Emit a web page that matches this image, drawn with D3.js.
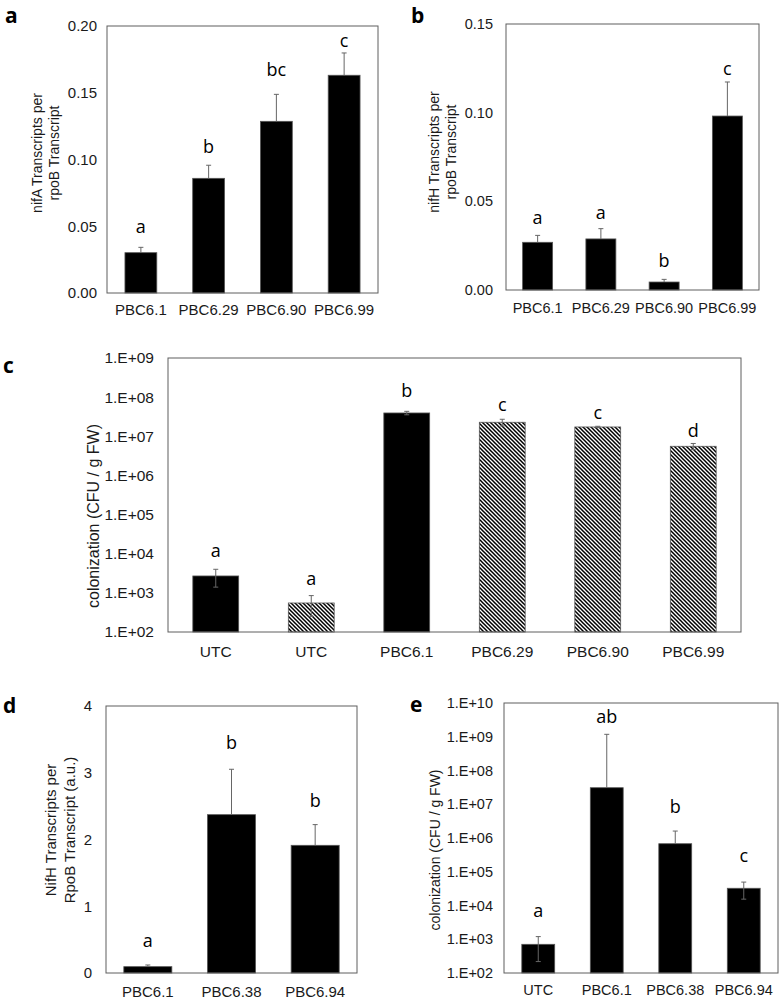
<!DOCTYPE html>
<html>
<head>
<meta charset="utf-8">
<script src="https://cdn.jsdelivr.net/npm/d3@7"></script>
<style>
  html, body { margin: 0; padding: 0; background: #fff; }
  svg { display: block; }
</style>
</head>
<body>
<svg id="chart" width="782" height="1001"></svg>
<script>
// ---------------- DATA ----------------
// Panel a
const aCategories = ["PBC6.1", "PBC6.29", "PBC6.90", "PBC6.99"];
const aValues = [0.0302, 0.0859, 0.1286, 0.1631];
const aErrors = [0.0040, 0.0098, 0.0202, 0.0167];
const aLetters = ["a", "b", "bc", "c"];
const aLetterAt = [0.0447, 0.1046, 0.1625, 0.1845];
const aTicks = [0, 0.05, 0.10, 0.15, 0.20];
const aTickLabels = ["0.00", "0.05", "0.10", "0.15", "0.20"];

// Panel b
const bCategories = ["PBC6.1", "PBC6.29", "PBC6.90", "PBC6.99"];
const bValues = [0.0269, 0.0288, 0.0045, 0.0981];
const bErrors = [0.0039, 0.0058, 0.0015, 0.0192];
const bLetters = ["a", "a", "b", "c"];
const bLetterAt = [0.0372, 0.0400, 0.0131, 0.1212];
const bTicks = [0, 0.05, 0.10, 0.15];
const bTickLabels = ["0.00", "0.05", "0.10", "0.15"];

// Panel c
const cCategories = ["UTC", "UTC", "PBC6.1", "PBC6.29", "PBC6.90", "PBC6.99"];
const cSeries = ["wt", "evolved", "wt", "evolved", "evolved", "evolved"];
const cValues = [2700, 551, 3.94e7, 2.28e7, 1.73e7, 5.55e6];
const cErrors = [1300, 300, 4.0e6, 4.4e6, 0.7e6, 1.0e6];
const cLetters = ["a", "a", "b", "c", "c", "d"];
const cLetterAt = [8390, 1617, 1.03e8, 4.5e7, 2.77e7, 9.77e6];
const cTicks = [1e2, 1e3, 1e4, 1e5, 1e6, 1e7, 1e8, 1e9];
const cTickLabels = ["1.E+02", "1.E+03", "1.E+04", "1.E+05", "1.E+06", "1.E+07", "1.E+08", "1.E+09"];

// Panel d
const dCategories = ["PBC6.1", "PBC6.38", "PBC6.94"];
const dValues = [0.095, 2.372, 1.913];
const dErrors = [0.025, 0.68, 0.31];
const dLetters = ["a", "b", "b"];
const dLetterAt = [0.385, 3.36, 2.48];
const dTicks = [0, 1, 2, 3, 4];
const dTickLabels = ["0", "1", "2", "3", "4"];

// Panel e
const eCategories = ["UTC", "PBC6.1", "PBC6.38", "PBC6.94"];
const eValues = [708, 3.09e7, 6.77e5, 3.24e4];
const eErrors = [490, 1.15e9, 9.3e5, 1.7e4];
const eLetters = ["a", "ab", "b", "c"];
const eLetterAt = [4660, 2.5e9, 5.6e6, 1.9e5];
const eTicks = [1e2, 1e3, 1e4, 1e5, 1e6, 1e7, 1e8, 1e9, 1e10];
const eTickLabels = ["1.E+02", "1.E+03", "1.E+04", "1.E+05", "1.E+06", "1.E+07", "1.E+08", "1.E+09", "1.E+10"];

// ---------------- DRAWING ----------------
const svg = d3.select("#chart");
const TICK_FONT = "'Liberation Sans', Arial, sans-serif";
const LETTER_FONT = "'Open Sans', sans-serif";

const defs = svg.append("defs");
const pat = defs.append("pattern")
  .attr("id", "hatch")
  .attr("patternUnits", "userSpaceOnUse")
  .attr("width", 4).attr("height", 4);
pat.append("rect").attr("width", 4).attr("height", 4).attr("fill", "#fff");
pat.append("path")
  .attr("d", "M-1,-1 L5,5 M-1,3 L1,5 M3,-1 L5,1")
  .attr("stroke", "#000").attr("stroke-width", 1.5);

function panel(cfg) {
  const [x0, y0, x1, y1] = cfg.frame;
  const g = svg.append("g");
  const n = cfg.categories.length;
  const x = d3.scaleBand().domain(d3.range(n)).range([x0, x1])
    .paddingInner(cfg.pad).paddingOuter(cfg.pad / 2);
  const y = (cfg.log ? d3.scaleLog() : d3.scaleLinear()).domain(cfg.domain).range([y1, y0]);

  // bars
  g.selectAll("rect.bar").data(cfg.values).join("rect")
    .attr("class", "bar")
    .attr("x", (d, i) => x(i))
    .attr("y", d => y(d))
    .attr("width", x.bandwidth())
    .attr("height", d => y1 - y(d))
    .attr("fill", (d, i) => cfg.fill ? cfg.fill(i) : "#000")
    .attr("stroke", "#555")
    .attr("stroke-width", 0.8);

  // error bars
  const cap = 2.5;
  cfg.values.forEach((v, i) => {
    const cx = x(i) + x.bandwidth() / 2;
    const e = cfg.errors[i];
    const top = y(v + e);
    let bot = y(v);
    if (cfg.errBoth && v - e > 0) bot = y(v - e);
    g.append("line").attr("x1", cx).attr("x2", cx).attr("y1", top).attr("y2", bot)
      .attr("stroke", "#666").attr("stroke-width", 1);
    g.append("line").attr("x1", cx - cap).attr("x2", cx + cap).attr("y1", top).attr("y2", top)
      .attr("stroke", "#666").attr("stroke-width", 1);
    if (cfg.errBoth && v - e > 0) {
      g.append("line").attr("x1", cx - cap).attr("x2", cx + cap).attr("y1", bot).attr("y2", bot)
        .attr("stroke", "#666").attr("stroke-width", 1);
    }
  });

  // frame
  g.append("rect").attr("x", x0).attr("y", y0).attr("width", x1 - x0).attr("height", y1 - y0)
    .attr("fill", "none").attr("stroke", "#5e5e5e").attr("stroke-width", 1);

  // y axis
  const ya = g.append("g").attr("transform", `translate(${x0},0)`)
    .call(d3.axisLeft(y).tickValues(cfg.ticks).tickFormat((d, i) => cfg.tickLabels[i])
      .tickSize(0).tickPadding(cfg.yGap));
  ya.select(".domain").remove();
  ya.attr("font-family", TICK_FONT).attr("font-size", cfg.yFont).attr("color", "#1a1a1a");

  // x axis
  const xa = g.append("g").attr("transform", `translate(0,${y1})`)
    .call(d3.axisBottom(x).tickFormat(i => cfg.categories[i])
      .tickSize(0).tickPadding(cfg.xOff - 0.35 * cfg.xFont));
  xa.select(".domain").remove();
  xa.attr("font-family", TICK_FONT).attr("font-size", cfg.xFont).attr("color", "#1a1a1a");

  // significance letters
  g.selectAll("text.letter").data(cfg.letters).join("text")
    .attr("class", "letter")
    .attr("x", (d, i) => x(i) + x.bandwidth() / 2)
    .attr("y", (d, i) => y(cfg.letterAt[i]))
    .attr("text-anchor", "middle")
    .attr("font-family", LETTER_FONT)
    .attr("font-size", 18)
    .attr("fill", "#000")
    .text(d => d);

  // y title
  cfg.title.forEach((t, k) => {
    g.append("text")
      .attr("transform", `translate(${cfg.titleX[k]},${cfg.titleY}) rotate(-90)`)
      .attr("text-anchor", "middle")
      .attr("dy", "0.35em")
      .attr("font-family", TICK_FONT)
      .attr("font-size", cfg.titleFont)
      .attr("fill", "#1a1a1a")
      .text(t);
  });

  // panel label
  svg.append("text")
    .attr("x", cfg.label[1]).attr("y", cfg.label[2])
    .attr("font-family", LETTER_FONT).attr("font-weight", "bold")
    .attr("font-size", 21).attr("fill", "#000")
    .text(cfg.label[0]);
}

panel({
  frame: [107, 26, 378, 293], pad: 0.53, domain: [0, 0.2],
  categories: aCategories, values: aValues, errors: aErrors,
  letters: aLetters, letterAt: aLetterAt, ticks: aTicks, tickLabels: aTickLabels,
  yFont: 15, yGap: 10, xFont: 15, xOff: 17,
  title: ["nifA Transcripts per", "rpoB Transcript"], titleX: [37, 54], titleY: 153, titleFont: 14,
  label: ["a", 5, 23]
});

panel({
  frame: [506, 24, 759, 290], pad: 0.526, domain: [0, 0.15],
  categories: bCategories, values: bValues, errors: bErrors,
  letters: bLetters, letterAt: bLetterAt, ticks: bTicks, tickLabels: bTickLabels,
  yFont: 14.5, yGap: 13, xFont: 14.5, xOff: 17.5,
  title: ["nifH Transcripts per", "rpoB Transcript"], titleX: [434, 451], titleY: 152, titleFont: 14,
  label: ["b", 411, 23]
});

panel({
  frame: [168, 358, 741, 632], pad: 0.52, domain: [1e2, 1e9], log: true, errBoth: true,
  categories: cCategories, values: cValues, errors: cErrors,
  letters: cLetters, letterAt: cLetterAt, ticks: cTicks, tickLabels: cTickLabels,
  fill: i => cSeries[i] === "wt" ? "#000" : "url(#hatch)",
  yFont: 15.5, yGap: 14, xFont: 15.5, xOff: 19,
  title: ["colonization (CFU / g FW)"], titleX: [93], titleY: 516, titleFont: 16,
  label: ["c", 3, 373]
});

panel({
  frame: [106, 706, 357, 973], pad: 0.426, domain: [0, 4],
  categories: dCategories, values: dValues, errors: dErrors,
  letters: dLetters, letterAt: dLetterAt, ticks: dTicks, tickLabels: dTickLabels,
  yFont: 15, yGap: 14, xFont: 15, xOff: 18.7,
  title: ["NifH Transcripts per", "RpoB Transcript (a.u.)"], titleX: [51, 70], titleY: 830, titleFont: 15,
  label: ["d", 3, 713]
});

panel({
  frame: [504, 703, 778, 973], pad: 0.52, domain: [1e2, 1e10], log: true, errBoth: true,
  categories: eCategories, values: eValues, errors: eErrors,
  letters: eLetters, letterAt: eLetterAt, ticks: eTicks, tickLabels: eTickLabels,
  yFont: 14.5, yGap: 11, xFont: 14.5, xOff: 17,
  title: ["colonization (CFU / g FW)"], titleX: [435], titleY: 850, titleFont: 14,
  label: ["e", 410, 712]
});
</script>
</body>
</html>
